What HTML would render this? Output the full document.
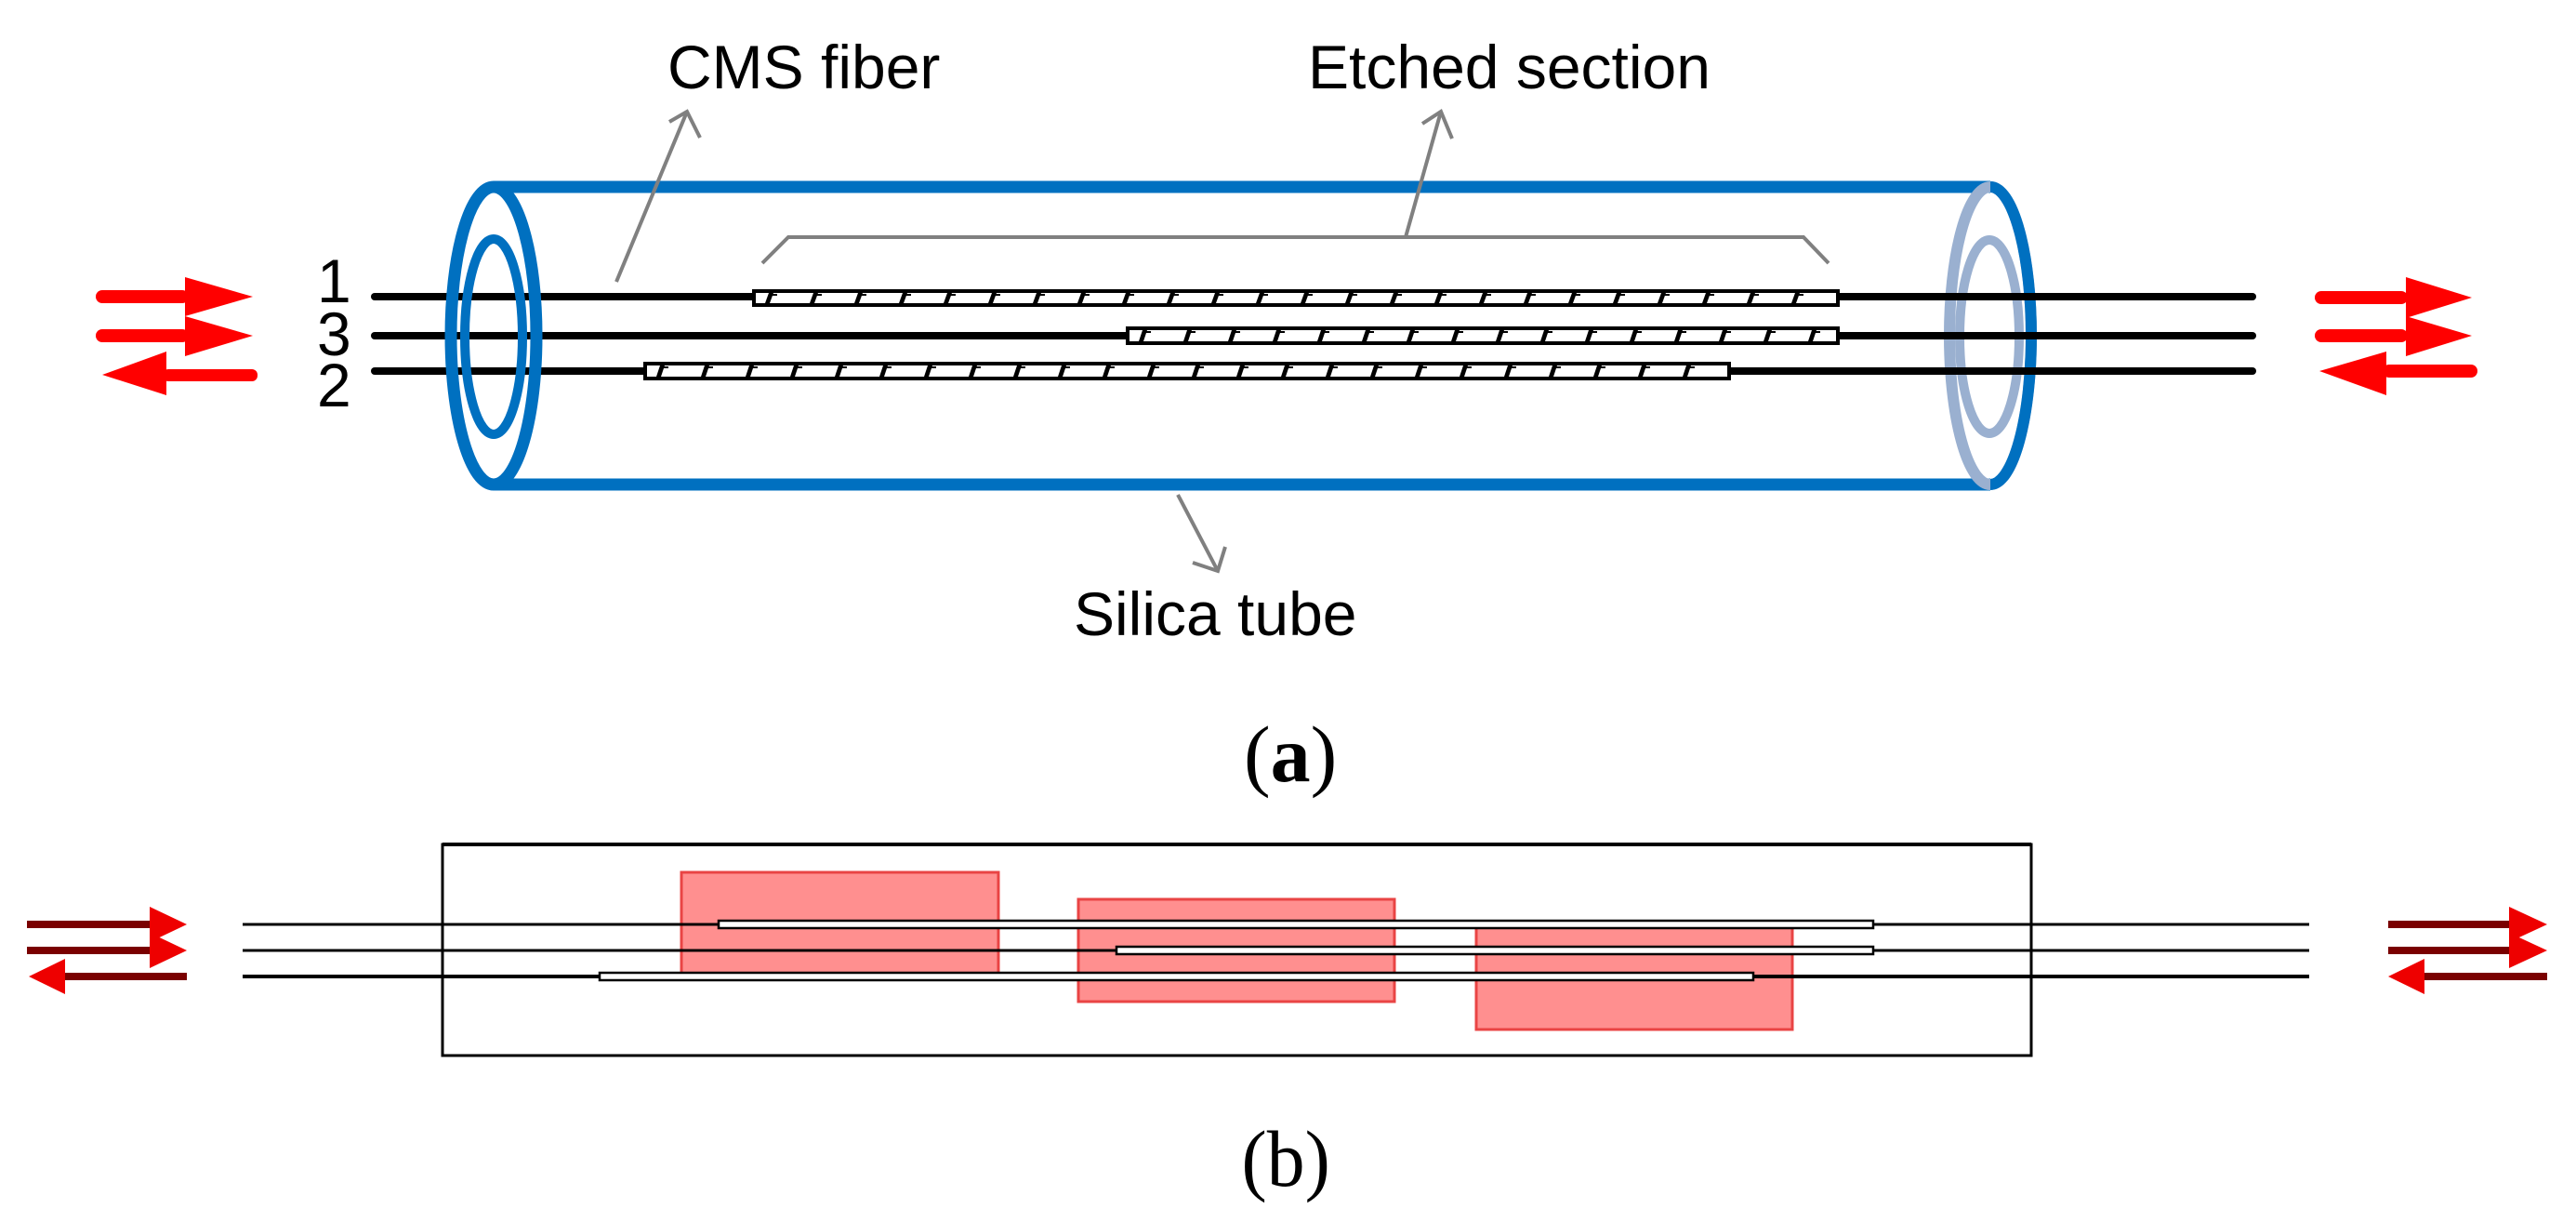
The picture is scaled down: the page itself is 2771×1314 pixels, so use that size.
<!DOCTYPE html>
<html><head><meta charset="utf-8"><style>html,body{margin:0;padding:0;background:#fff}svg{display:block}</style></head>
<body>
<svg width="2771" height="1314" viewBox="0 0 2771 1314" xmlns="http://www.w3.org/2000/svg">
<defs>
<pattern id="p1" width="48" height="200" patternUnits="userSpaceOnUse" patternTransform="translate(811 313)">
<polygon points="12,13 17,13 21,2 16,2" fill="#000"/><rect x="17" y="3" width="8" height="2" fill="#000"/>
</pattern>
<pattern id="p3" width="48" height="200" patternUnits="userSpaceOnUse" patternTransform="translate(1213 353)">
<polygon points="12,14 17,14 21,2 16,2" fill="#000"/><rect x="17" y="3" width="8" height="2" fill="#000"/>
</pattern>
<pattern id="p2" width="48" height="200" patternUnits="userSpaceOnUse" patternTransform="translate(694 391)">
<polygon points="12,14 17,14 21,2 16,2" fill="#000"/><rect x="17" y="3" width="8" height="2" fill="#000"/>
</pattern>
</defs>
<!-- tube -->
<line x1="531" y1="201" x2="2141" y2="201" stroke="#0070c0" stroke-width="13"/>
<line x1="531" y1="521" x2="2141" y2="521" stroke="#0070c0" stroke-width="13"/>
<!-- right end -->
<ellipse cx="2141" cy="361" rx="44" ry="160" fill="none" stroke="#9ab0d0" stroke-width="12"/>
<ellipse cx="2140" cy="362" rx="32" ry="104" fill="none" stroke="#9ab0d0" stroke-width="10"/>
<path d="M2141 201 A44 160 0 0 1 2141 521" fill="none" stroke="#0070c0" stroke-width="12"/>
<!-- fibers -->
<g stroke="#000" stroke-width="8" stroke-linecap="round">
<line x1="403" y1="319" x2="2423" y2="319"/>
<line x1="403" y1="361" x2="2423" y2="361"/>
<line x1="403" y1="399" x2="2423" y2="399"/>
</g>
<!-- left end -->
<ellipse cx="531" cy="361" rx="46" ry="160" fill="none" stroke="#0070c0" stroke-width="13"/>
<ellipse cx="531" cy="362" rx="31" ry="105" fill="none" stroke="#0070c0" stroke-width="10"/>
<!-- etched rects -->
<g stroke="#000" stroke-width="4">
<rect x="811" y="313" width="1166" height="15" fill="#fff"/>
<rect x="811" y="313" width="1166" height="15" fill="url(#p1)"/>
<rect x="1213" y="353" width="764" height="16" fill="#fff"/>
<rect x="1213" y="353" width="764" height="16" fill="url(#p3)"/>
<rect x="694" y="391" width="1166" height="16" fill="#fff"/>
<rect x="694" y="391" width="1166" height="16" fill="url(#p2)"/>
</g>
<!-- leaders -->
<g stroke="#808080" stroke-width="4" fill="none">
<line x1="663" y1="303" x2="739" y2="120"/>
<polyline points="720,131 739,120 753,148"/>
<polyline points="820,283 848,255 1940,255 1967,283"/>
<line x1="1512" y1="255" x2="1550" y2="120"/>
<polyline points="1530,133 1550,120 1562,149"/>
<line x1="1267" y1="532" x2="1310" y2="614"/>
<polyline points="1283,605 1310,614 1318,588"/>
</g>
<!-- labels -->
<g font-family="Liberation Sans, sans-serif" font-size="66" fill="#000">
<text x="718" y="95">CMS fiber</text>
<text x="1407" y="95">Etched section</text>
<text x="1155" y="683">Silica tube</text>
<text x="341" y="325">1</text>
<text x="341" y="382">3</text>
<text x="341" y="437">2</text>
</g>
<text x="1338" y="840" font-family="Liberation Serif, serif" font-size="86">(<tspan font-weight="bold">a</tspan>)</text>
<text x="1333" y="1275" font-family="Liberation Serif, serif" font-size="86" transform="translate(1384 0) scale(0.95 1) translate(-1384 0)">(b)</text>
<!-- red arrows (a) -->
<g fill="#ff0000">
<rect x="103" y="312" width="100" height="14" rx="7"/>
<polygon points="199,298 272,319 199,340"/>
<rect x="103" y="354" width="100" height="14" rx="7"/>
<polygon points="199,340 272,361 199,383"/>
<rect x="175" y="397" width="102" height="13" rx="6"/>
<polygon points="110,403 179,378 179,425"/>
<rect x="2490" y="313" width="100" height="14" rx="7"/>
<polygon points="2588,298 2659,320 2588,342"/>
<rect x="2490" y="354" width="100" height="14" rx="7"/>
<polygon points="2588,340 2659,361 2588,383"/>
<rect x="2563" y="392" width="102" height="14" rx="7"/>
<polygon points="2495,399 2567,378 2567,425"/>
</g>
<!-- part b -->
<rect x="476" y="908" width="1709" height="227" fill="none" stroke="#000" stroke-width="3"/>
<line x1="476" y1="908" x2="2185" y2="908" stroke="#000" stroke-width="4"/>
<g fill="#ff8a8a" stroke="#e83a3a" stroke-width="3" opacity="0.95">
<rect x="733" y="938" width="341" height="112"/>
<rect x="1160" y="967" width="340" height="110"/>
<rect x="1588" y="993" width="340" height="114"/>
</g>
<g stroke="#000" stroke-width="3">
<line x1="261" y1="994" x2="2484" y2="994"/>
<line x1="261" y1="1022" x2="2484" y2="1022"/>
<line x1="261" y1="1050" x2="2484" y2="1050" stroke-width="4"/>
</g>
<g stroke="#000" stroke-width="2.5" fill="#fff">
<rect x="773" y="990" width="1242" height="8"/>
<rect x="1201" y="1018" width="814" height="8"/>
<rect x="645" y="1046" width="1241" height="8"/>
</g>
<g fill="#7a0000">
<rect x="29" y="990" width="140" height="8"/>
<rect x="29" y="1018" width="140" height="8"/>
<rect x="62" y="1046" width="139" height="8"/>
<rect x="2569" y="990" width="140" height="8"/>
<rect x="2569" y="1018" width="140" height="8"/>
<rect x="2602" y="1046" width="138" height="8"/>
</g>
<g fill="#ee0000">
<polygon points="161,975 201,994 161,1013"/>
<polygon points="161,1003 201,1022 161,1041"/>
<polygon points="31,1050 70,1031 70,1069"/>
<polygon points="2699,975 2740,994 2699,1013"/>
<polygon points="2699,1003 2740,1022 2699,1041"/>
<polygon points="2569,1050 2608,1031 2608,1069"/>
</g>
</svg>
</body></html>
